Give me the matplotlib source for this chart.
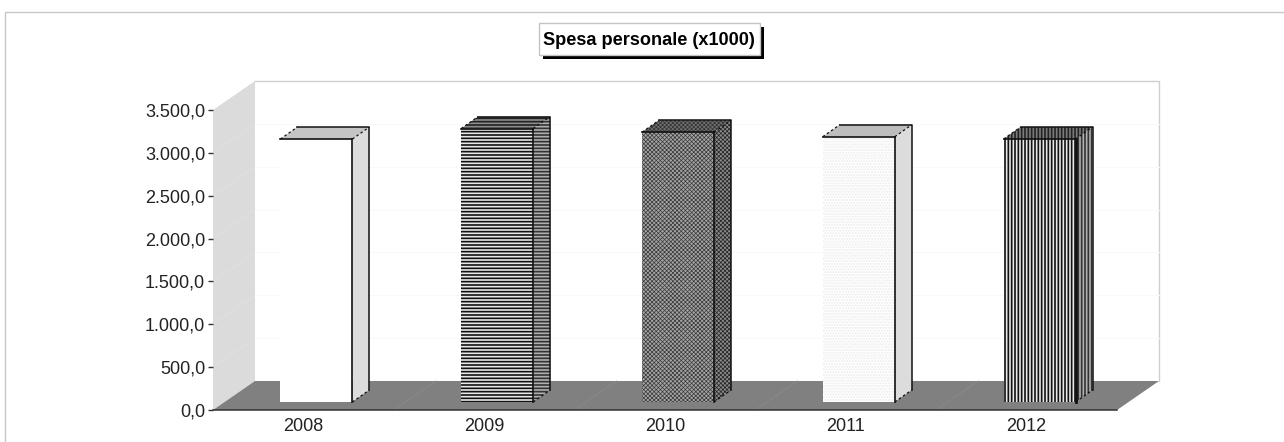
import matplotlib
matplotlib.use('Agg')
import matplotlib.pyplot as plt
from matplotlib.patches import Rectangle

plt.rcParams['font.family'] = ['Liberation Sans', 'DejaVu Sans']

W = 1284
H = 442

years = ['2008', '2009', '2010', '2011', '2012']
values = [3068, 3190, 3147, 3095, 3068]
yticks = [0, 500, 1000, 1500, 2000, 2500, 3000, 3500]
ylabels = ['0,0', '500,0', '1.000,0', '1.500,0', '2.000,0', '2.500,0', '3.000,0', '3.500,0']
title = 'Spesa personale (x1000)'

# one style per bar: front, side, top colours and hatch
fronts = ['white', '#e8e8e8', '#a4a4a4', 'white', '#e8e8e8']
sides = ['#dcdcdc', '#b0b0b0', '#8a8a8a', '#dcdcdc', '#b0b0b0']
tops = ['#c4c4c4', '#8c8c8c', '#6e6e6e', '#bdbdbd', '#7c7c7c']
hatches = [None, '-----', 'xxxxxxxx', '......', '|||||']
hatch_cols = ['none', '#111111', '#383838', '#ececec', '#111111']
side_hatch_cols = ['none', '#333333', '#222222', 'none', '#333333']
top_hatch_cols = ['none', '#222222', '#333333', 'none', '#222222']
hatch_widths = [1, 1.2, 0.5, 1, 1.2]

fig = plt.figure(figsize=(W / 100, H / 100), dpi=100)
fig.patch.set_facecolor('white')

# axes = front plane of the 3d box
left, right, top, bottom = 213, 1117, 110, 410
ax = fig.add_axes([left / W, 1 - bottom / H, (right - left) / W, (bottom - top) / H])
ax.set_xlim(-0.5, 4.5)
ax.set_ylim(0, 3500)
ax.patch.set_alpha(0)

xpx = 5 / (right - left)
ypx = 3500 / (bottom - top)


def px(dx, dy):
    return dx * xpx, dy * ypx


wall_dx, wall_dy = px(42, 29)
x0, x1 = ax.get_xlim()
ax.fill([x0, x0 + wall_dx, x0 + wall_dx, x0], [0, wall_dy, 3500 + wall_dy, 3500],
        color='#dbdbdb', lw=0, clip_on=False, zorder=1)
ax.fill([x0, x0 + wall_dx, x1 + wall_dx, x1], [0, wall_dy, wall_dy, 0],
        color='#808080', lw=0, clip_on=False, zorder=1)
# back wall frame
ax.plot([x0 + wall_dx, x1 + wall_dx, x1 + wall_dx], [3500 + wall_dy, 3500 + wall_dy, wall_dy],
        color='#cfcfcf', lw=1, clip_on=False, zorder=1)

for t in yticks[1:-1]:
    ax.plot([x0, x0 + wall_dx], [t, t + wall_dy], color='#e2e2e2', lw=0.6, clip_on=False, zorder=1.5)
    ax.plot([x0 + wall_dx, x1 + wall_dx], [t + wall_dy, t + wall_dy], color='#f9f9f9', lw=0.7,
            clip_on=False, zorder=1.5)
for i in range(1, 5):
    ax.plot([x0 + i, x0 + i + wall_dx], [0, wall_dy], color='#8a8a8a', lw=0.6, zorder=1.5, clip_on=False)

# bars
off_x, off_y = px(13, 8)
bw = 72 * xpx
dep_x, dep_y = px(17, 12)

for i, v in enumerate(values):
    xl = i - bw / 2 + off_x
    xr = xl + bw
    yb = off_y
    yt = v + off_y
    plt.rcParams['hatch.linewidth'] = hatch_widths[i]
    ax.fill([xr, xr + dep_x, xr + dep_x, xr], [yb, yb + dep_y, yt + dep_y, yt], facecolor=sides[i],
            edgecolor=side_hatch_cols[i], hatch=hatches[i] if side_hatch_cols[i] != 'none' else None,
            lw=0, clip_on=False, zorder=3)
    ax.fill([xl, xl + dep_x, xr + dep_x, xr], [yt, yt + dep_y, yt + dep_y, yt], facecolor=tops[i],
            edgecolor=top_hatch_cols[i], hatch=hatches[i] if top_hatch_cols[i] != 'none' else None,
            lw=0, clip_on=False, zorder=3)
    ax.bar(i + off_x, v, bw, bottom=off_y, color=fronts[i], edgecolor=hatch_cols[i],
           hatch=hatches[i], lw=0, clip_on=False, zorder=4)
    # bar outlines
    line = '#111111'
    ax.plot([xl, xr], [yt, yt], color=line, lw=1.2, clip_on=False, zorder=5)
    ax.plot([xr, xr], [yt, yb], color=line, lw=2 if i == 4 else 1.2, clip_on=False, zorder=5)
    ax.plot([xl + dep_x, xr + dep_x, xr + dep_x], [yt + dep_y, yt + dep_y, yb + dep_y], color=line, lw=1.1,
            clip_on=False, zorder=5)
    for sx, sy in [(xl, yt), (xr, yt), (xr, yb)]:
        ax.plot([sx, sx + dep_x], [sy, sy + dep_y], color=line, lw=0.9, ls=(0, (2, 2)), clip_on=False, zorder=5)

ax.set_xticks(range(5))
ax.set_xticklabels(years, fontsize=13, color='#222222')
ax.set_yticks(yticks)
ax.set_yticklabels(ylabels, fontsize=13, color='#222222')
ax.tick_params(axis='x', length=0, pad=6)
ax.tick_params(axis='y', length=3.6, width=1, color='#333333', pad=2)
for s in ['top', 'right', 'left']:
    ax.spines[s].set_visible(False)
ax.spines['bottom'].set_color('#333333')
ax.spines['bottom'].set_linewidth(1.1)
ax.spines['bottom'].set_zorder(6)

# outer frame
fig.add_artist(plt.Line2D([5 / W, 5 / W, 1], [0, 1 - 12 / H, 1 - 12 / H], color='#c8c8c8', lw=1))

# title box with shadow
fig.add_artist(Rectangle((543 / W, 1 - 59 / H), 221 / W, 32 / H, transform=fig.transFigure, color='black', lw=0))
fig.add_artist(Rectangle((539 / W, 1 - 55 / H), 221 / W, 32 / H, transform=fig.transFigure, facecolor='white',
                         edgecolor='#c4c4c4', lw=1))
fig.text(649 / W, 1 - 40.5 / H, title, ha='center', va='center', fontsize=13.1, fontweight='bold', color='black')

fig.savefig('out.png', dpi=100)
